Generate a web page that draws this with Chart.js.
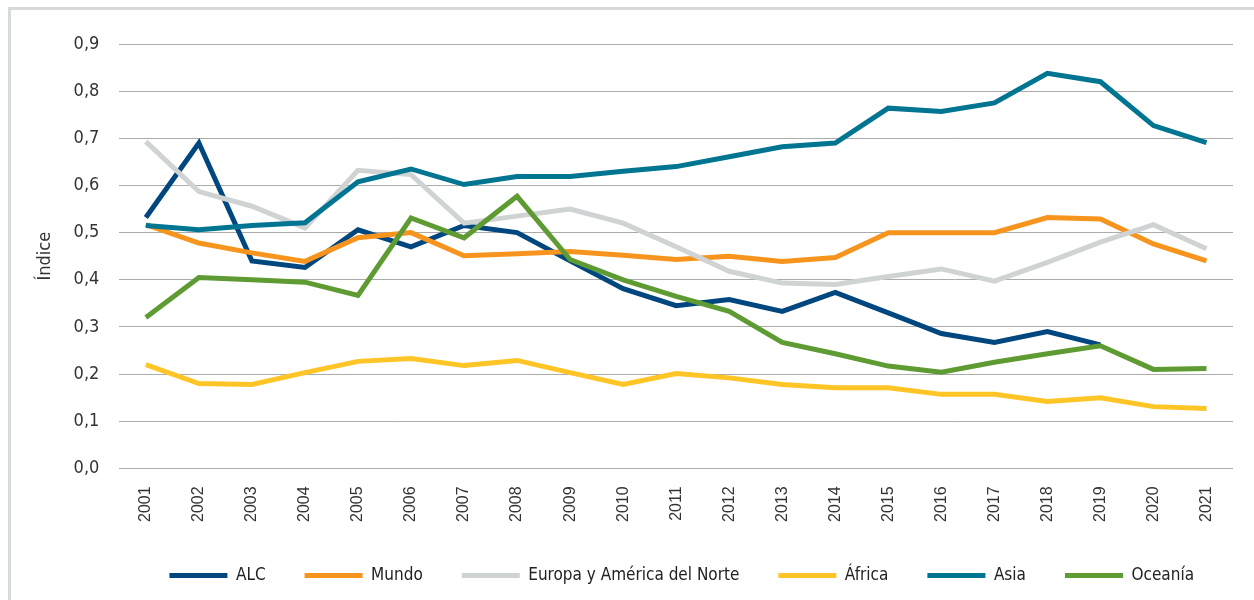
<!DOCTYPE html>
<html lang="es">
<head>
<meta charset="utf-8">
<title>Índice por región</title>
<script src="https://cdn.jsdelivr.net/npm/chart.js@4.4.1/dist/chart.umd.min.js"></script>
<style>
    html, body { margin: 0; padding: 0; background: #fff; }
    #wrap { position: relative; width: 1254px; height: 600px; overflow: hidden; }
    #frame {
        position: absolute; left: 8px; top: 7px; width: 1300px; height: 700px;
        border-left: 3px solid #d6dadd; border-top: 3px solid #d6dadd;
        pointer-events: none;
    }
</style>
</head>
<body>
<div id="wrap">
    <canvas id="chart" width="1254" height="600"></canvas>
    <div id="frame"></div>
</div>
<script>
const years = ['2001', '2002', '2003', '2004', '2005', '2006', '2007', '2008', '2009', '2010', '2011',
    '2012', '2013', '2014', '2015', '2016', '2017', '2018', '2019', '2020', '2021'];

const alc = [0.532, 0.690, 0.440, 0.426, 0.506, 0.470, 0.515, 0.500, 0.440, 0.381, 0.345,
    0.358, 0.333, 0.373, 0.330, 0.286, 0.267, 0.290, 0.262, null, null];
const mundo = [0.517, 0.478, 0.457, 0.439, 0.489, 0.500, 0.451, 0.455, 0.460, 0.452, 0.443,
    0.450, 0.439, 0.447, 0.500, 0.500, 0.500, 0.532, 0.529, 0.476, 0.440];
const europaNorteamerica = [0.693, 0.587, 0.556, 0.510, 0.632, 0.623, 0.520, 0.535, 0.550, 0.520, 0.470,
    0.418, 0.393, 0.390, 0.407, 0.423, 0.397, 0.437, 0.480, 0.517, 0.466];
const africa = [0.220, 0.180, 0.178, 0.203, 0.227, 0.233, 0.218, 0.229, 0.203, 0.178, 0.201,
    0.192, 0.178, 0.171, 0.171, 0.157, 0.157, 0.142, 0.150, 0.131, 0.127];
const asia = [0.515, 0.506, 0.515, 0.521, 0.608, 0.635, 0.602, 0.619, 0.619, 0.630, 0.640,
    0.661, 0.682, 0.690, 0.764, 0.757, 0.775, 0.838, 0.820, 0.727, 0.691];
const oceania = [0.320, 0.405, 0.400, 0.395, 0.367, 0.531, 0.489, 0.577, 0.443, 0.400, 0.365,
    0.333, 0.267, 0.243, 0.217, 0.204, 0.225, 0.243, 0.260, 0.210, 0.212];

const seriesNames = ['ALC', 'Mundo', 'Europa y América del Norte', 'África', 'Asia', 'Oceanía'];
const seriesValues = [alc, mundo, europaNorteamerica, africa, asia, oceania];
const seriesColors = ['#00467f', '#f7941d', '#d0d3d4', '#ffc425', '#007591', '#5e9b32'];

const narrowFont = "'Liberation Sans Narrow', 'DejaVu Sans Condensed', 'Arial Narrow', sans-serif";

// later series drawn on top, like the original
const datasets = seriesNames.map((name, i) => ({
    label: name,
    data: seriesValues[i],
    borderColor: seriesColors[i],
    backgroundColor: seriesColors[i],
    borderWidth: 5,
    pointRadius: 0,
    pointHoverRadius: 0,
    tension: 0,
    borderJoinStyle: 'miter',
    spanGaps: false,
    order: seriesNames.length - i
}));

const defaultLegendLabels = Chart.defaults.plugins.legend.labels.generateLabels;

new Chart(document.getElementById('chart'), {
    type: 'line',
    data: {
        labels: years,
        datasets
    },
    options: {
        responsive: false,
        animation: false,
        layout: {
            padding: { left: 18, right: 21, top: 44, bottom: 6 }
        },
        plugins: {
            tooltip: { enabled: false },
            legend: {
                position: 'bottom',
                align: 'end',
                labels: {
                    boxWidth: 58,
                    boxHeight: 5,
                    padding: 39,
                    color: '#222',
                    font: { family: narrowFont, size: 17 },
                    generateLabels: (chart) => defaultLegendLabels(chart)
                        .map(item => ({ ...item, lineWidth: 0 }))
                        .sort((a, b) => a.datasetIndex - b.datasetIndex)
                }
            }
        },
        scales: {
            x: {
                offset: true,
                grid: { display: false, drawTicks: false },
                border: { display: false },
                ticks: {
                    minRotation: 90,
                    maxRotation: 90,
                    padding: 18,
                    color: '#333',
                    font: { family: "'Liberation Sans', Arial, sans-serif", size: 16 }
                },
                // pull the legend up a little closer to the year labels
                afterFit: (scale) => { scale.height -= 12; }
            },
            y: {
                min: 0,
                max: 0.9,
                grid: { color: '#ababab', lineWidth: 1, drawTicks: false },
                border: { display: false },
                ticks: {
                    stepSize: 0.1,
                    padding: 20,
                    color: '#333',
                    font: { family: narrowFont, size: 18 },
                    callback: (v) => v.toFixed(1).replace('.', ',')
                },
                title: {
                    display: true,
                    text: 'Índice',
                    color: '#333',
                    padding: { top: 17, bottom: -3 },
                    font: { family: narrowFont, size: 18 }
                }
            }
        }
    }
});
</script>
</body>
</html>
